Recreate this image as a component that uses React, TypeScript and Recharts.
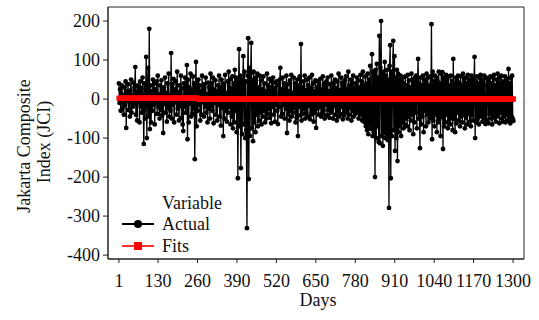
import { ComposedChart, Line, XAxis, YAxis, ReferenceArea } from "recharts";

const FONT = '"Liberation Serif", "Times New Roman", serif';

const DAY_TICKS = [1, 130, 260, 390, 520, 650, 780, 910, 1040, 1170, 1300];
const Y_TICKS = [-400, -300, -200, -100, 0, 100, 200];
const DAY_STEP = 2;

// daily change of the JCI (one value every 2 days)
const ACTUAL_A = [
  40, -10, 25, -30, 12, 35, -22, 8, -40, 30,
  -15, 45, -74, 20, -5, 38, -28, 15, -45, 22,
  50, -35, 10, -20, 42, -12, 30, 82, -40, 18,
  -55, 35, -8, 25, -60, 45, -18, 28, -35, 55,
  -25, -115, 40, -50, 15, 108, -100, 30, 80, -45,
  180, -77, 35, -60, 20, -30, 50, -15, 40, -65,
  25, -10, 45, -38, 60, -20, 12, -50, 35, -28,
  48, -42, 20, -87, 30, -12, 55, -35, 15, -58,
  40, -22, 65, -45, 10, -30, 118, -50, 38, -15,
  52, -60, 25, -8, 45, -40, 70, -25, 18, -55,
  35, -18, 60, -48, 28, -65, -82, 40, -20, 55,
  -35, 15, 87, -103, 50, -60, 30, -12, 65, -45,
  22, -38, 58, -25, 40, -154, 30, 95, -70, 45,
];
const ACTUAL_B = [
  -30, 50, -15, 35, -55, 20, -40, 60, -8, 28,
  -45, 38, -20, 55, -35, 12, -60, 42, -25, 30,
  -50, 65, -18, 40, -30, 55, -62, 25, -10, 48,
  -40, 20, -55, 35, -15, 60, -45, 30, -68, 50,
  -22, 40, -95, 35, -50, 62, -30, 15, -58, 45,
  -35, 70, -20, 50, -65, 28, -45, 58, -75, 40,
  -60, 75, -30, 55, -85, 45, -203, 30, 128, -70,
  60, -177, 50, -90, 35, 110, -65, 70, -100, 45,
  -80, -331, 60, 156, -205, 80, -95, 65, 144, -75,
  50, -108, 70, -60, 45, -85, 55, -40, 65, -70,
  30, -55, 60, -35, 48, -65, 25, -45, 58, -30,
  40, -60, 20, -50, 65, -38, 35, -25, 52, -48,
  30, -62, 45, -20, 55, -40, 28, -58, 42, -15,
];
const ACTUAL_C = [
  45, -30, -64, 35, -20, 50, 80, -45, 25, -38,
  55, -15, 40, -50, 30, -25, 60, -87, 38, -40,
  20, -55, 48, -30, 62, -45, 15, -35, 55, -22,
  40, -60, 28, -48, 50, -95, 35, -20, 58, -42,
  141, -55, 30, -38, 45, -25, 60, -50, 22, -35,
  50, -45, 35, -18, 55, -52, 28, -40, 62, -30,
  40, -58, 20, -35, 48, -74, 30, -25, 45, -40,
  35, -20, 52, -45, 25, -38, 58, -30, 40, -50,
  30, -15, 45, -42, 55, -28, 20, -48, 38, -35,
  60, -25, 32, -50, 42, -18, 50, -40, 28, -55,
  45, -30, 65, -45, 22, -38, 55, -20, 40, -52,
  30, -42, 48, -28, 58, -35, 25, -50, 70, -40,
  35, -22, 50, -55, 42, -30, 60, -45, 28, -38,
];
const ACTUAL_D = [
  40, -35, 55, -25, 48, -50, 30, -40, 62, -30,
  45, -55, 70, -45, 35, -60, 58, -70, 40, -80,
  65, -90, 50, -75, 85, -60, -77, 115, -95, 70,
  -85, 60, -200, 75, -100, 90, -70, 55, -110, 162,
  -113, 80, 200, -95, 65, -120, 70, -85, 95, -100,
  60, -90, 75, -105, 50, -279, 85, 138, -203, 70,
  -95, 60, 149, -80, 110, -133, 55, -100, 75, -159,
  65, -85, 50, -70, 60, -95, 45, -60, 55, -75,
  40, -65, 58, -50, 35, -70, 62, -45, 48, -80,
  30, -55, 65, -40, 50, -90, 42, -60, 55, -35,
  60, -75, 45, 103, -50, 40, -126, 55, -65, 35,
  -45, 60, -85, 50, -30, 48, -70, 65, -40, 55,
  -60, 35, -50, 58, -45, 192, -103, 70, -55, 45,
];
const ACTUAL_E = [
  -70, 60, -40, 55, -85, 45, -60, 70, -50, 40,
  -95, 65, -45, 69, -128, 55, -70, 48, -60, 62,
  -40, 50, -75, 58, -55, 35, -65, 60, -48, 45,
  -80, 103, -50, 40, -85, 55, -62, 48, -35, 60,
  -55, 42, -70, 58, -45, 35, -60, 65, -40, 50,
  -75, 55, -48, 40, -65, 62, -38, 50, -58, 45,
  -70, 60, -42, 52, -55, 48, 108, -100, 45, -60,
  58, -50, 40, -65, 55, -45, 62, -35, 50, -58,
  42, -48, 60, -40, -64, 55, -55, 35, 50, -62,
  45, -38, 58, -50, 40, -65, 55, -42, 62, -48,
  35, -58, 50, -45, 65, -40, 42, -62, 55, -35,
  60, -50, 45, -58, 38, -45, 58, -60, 48, -40,
  52, -55, 77, -48, 40, -62, 55, -45, 60, -50,
  -56,
];
const FIT_LEVELS = [2, 0, 0, 0, 0];

const rows = [ACTUAL_A, ACTUAL_B, ACTUAL_C, ACTUAL_D, ACTUAL_E]
  .flatMap((seg, s) => seg.map((v) => ({ actual: v, fits: FIT_LEVELS[s] })))
  .map((r, i) => ({ ...r, day: 1 + i * DAY_STEP }));

const FitDot = (props: any) => {
  const { cx, cy, index } = props;
  if (cx == null || cy == null) return null;
  return <rect key={index} x={cx - 2.5} y={cy - 2.5} width={5} height={5} fill="#ff0000" />;
};

const YLabel = () => (
  <g fontFamily={FONT} fontSize={18} fill="#111">
    <text transform="translate(30,146) rotate(-90)" textAnchor="middle">
      Jakarta Composite
    </text>
    <text transform="translate(50,142) rotate(-90)" textAnchor="middle">
      Index (JCI)
    </text>
  </g>
);

const XLabel = () => (
  <text x={318} y={306} textAnchor="middle" fontFamily={FONT} fontSize={18} fill="#111">
    Days
  </text>
);

export default function App() {
  return (
    <div style={{ position: "absolute", left: 0, top: 0, width: 539, height: 320, background: "#fff" }}>
      <ComposedChart
        width={539}
        height={320}
        data={rows}
        margin={{ top: 7, right: 15, left: 0, bottom: 0 }}
      >
        <XAxis
          dataKey="day"
          type="number"
          domain={[-35, 1336]}
          ticks={DAY_TICKS}
          interval={0}
          allowDataOverflow
          height={61}
          tickSize={4}
          tickMargin={11}
          stroke="#222"
          tick={{ fontFamily: FONT, fontSize: 18, fill: "#111" }}
          label={{ content: () => <XLabel /> }}
        />
        <YAxis
          type="number"
          domain={[-410, 236]}
          ticks={Y_TICKS}
          interval={0}
          allowDataOverflow
          width={108}
          tickSize={5}
          tickMargin={3}
          stroke="#222"
          tick={{ fontFamily: FONT, fontSize: 18, fill: "#111" }}
          label={{ content: () => <YLabel /> }}
        />
        <ReferenceArea x1={-35} x2={1336} y1={-410} y2={236} fill="none" stroke="#222" strokeWidth={1} />
        <Line
          dataKey="actual"
          stroke="#000"
          strokeWidth={1.3}
          dot={{ r: 2.4, fill: "#000", stroke: "none" }}
          isAnimationActive={false}
        />
        <Line
          dataKey="fits"
          stroke="#ff0000"
          strokeWidth={5}
          dot={FitDot}
          isAnimationActive={false}
        />
      </ComposedChart>
      <svg
        width={130}
        height={70}
        style={{ position: "absolute", left: 118, top: 190 }}
        fontFamily={FONT}
        fontSize={18}
      >
        <text x={44} y={19} fill="#111">Variable</text>
        <line x1={4} x2={36} y1={34} y2={34} stroke="#000" strokeWidth={2} />
        <circle cx={20} cy={34} r={4} fill="#000" />
        <text x={44} y={40} fill="#111">Actual</text>
        <line x1={4} x2={36} y1={56} y2={56} stroke="#ff3030" strokeWidth={2} />
        <rect x={16} y={52} width={8} height={8} fill="#ff0000" />
        <text x={44} y={62} fill="#111">Fits</text>
      </svg>
    </div>
  );
}
